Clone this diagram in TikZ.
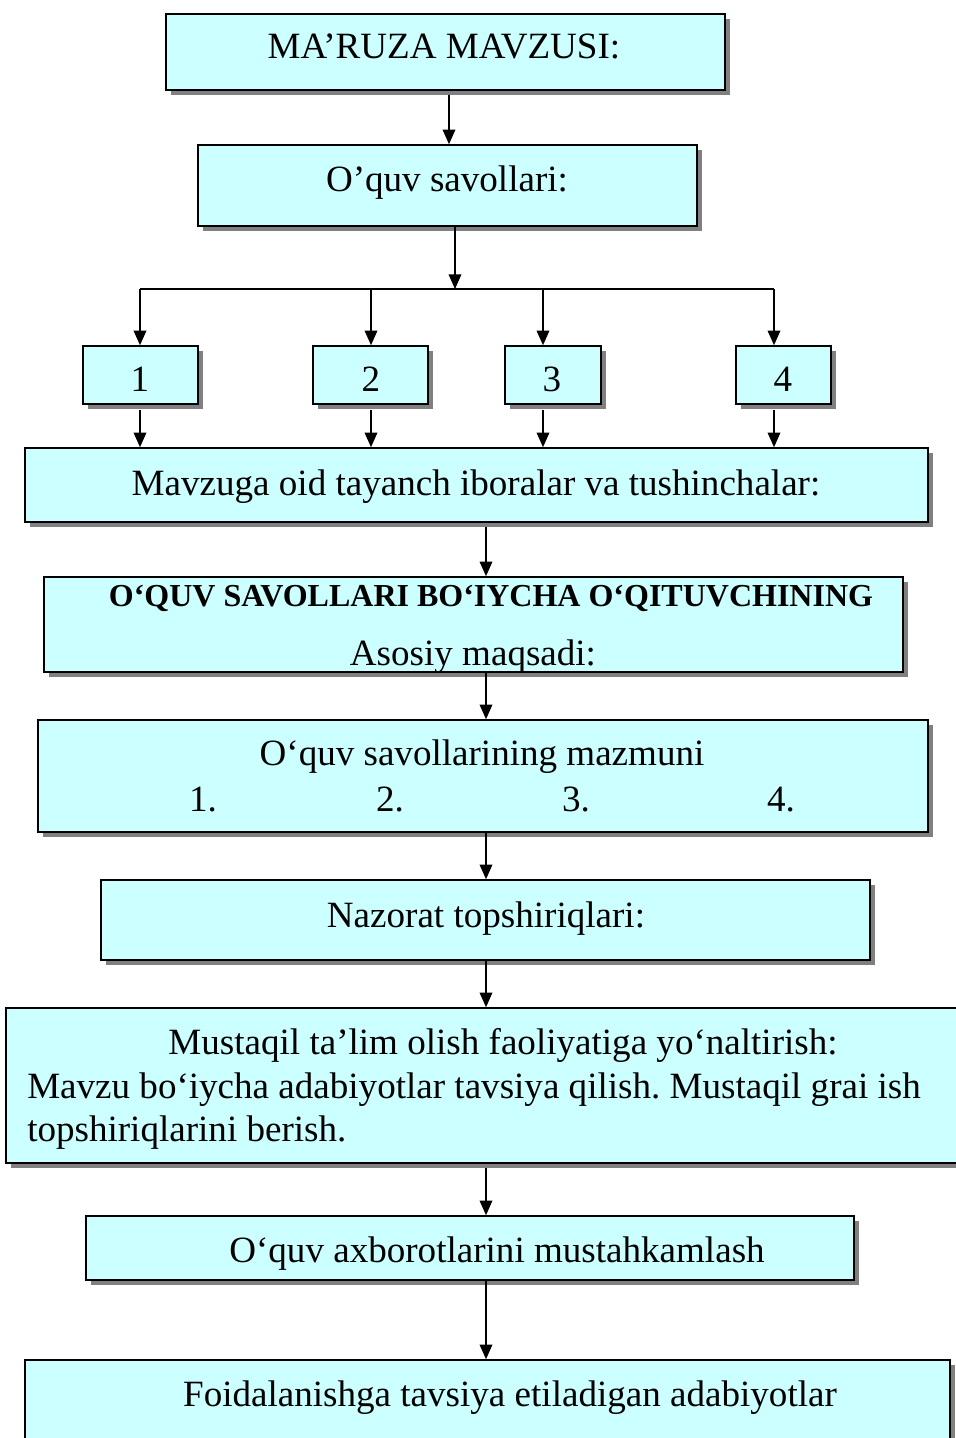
\documentclass[tikz,border=0pt]{standalone}
\usepackage{fontspec}
\setmainfont{Liberation Serif}
\frenchspacing
\usetikzlibrary{arrows.meta,shadows,calc}
\definecolor{boxfill}{HTML}{CCFFFF}
\definecolor{shadowgray}{HTML}{808080}
\tikzset{
  box/.style={draw=black, line width=1.2pt, fill=boxfill, rectangle, inner sep=0pt,
    general shadow={fill=shadowgray, shadow xshift=3.75pt, shadow yshift=-3.75pt}},
  lbl/.style={anchor=base, inner sep=0pt, font=\fontsize{27.8}{33}\selectfont},
  lbll/.style={anchor=base west, inner sep=0pt, font=\fontsize{27.8}{33}\selectfont},
  blbl/.style={anchor=base, inner sep=0pt, font=\fontsize{24}{29}\selectfont\bfseries},
  arr/.style={line width=1.1pt, -{Triangle[length=11pt,width=9.5pt]}},
  ln/.style={line width=1.1pt}
}
\begin{document}
\begin{tikzpicture}[x=0.75pt,y=-0.75pt]
\useasboundingbox (0,0) rectangle (956,1438);
% boxes
\node[box, minimum width=419.25pt, minimum height=57pt] (A) at (445.5,52) {};
\node[box, minimum width=374.25pt, minimum height=60.75pt] (B) at (447.5,185.5) {};
\node[box, minimum width=86.25pt, minimum height=43.5pt] (n1) at (140.5,375) {};
\node[box, minimum width=86.25pt, minimum height=43.5pt] (n2) at (370.5,375) {};
\node[box, minimum width=72pt, minimum height=43.5pt] (n3) at (553,375) {};
\node[box, minimum width=71.25pt, minimum height=43.5pt] (n4) at (783.5,375) {};
\node[box, minimum width=677.25pt, minimum height=55.5pt] (C) at (476.5,485) {};
\node[box, minimum width=644.25pt, minimum height=71.25pt] (D) at (473.5,624.5) {};
\node[box, minimum width=667.5pt, minimum height=84pt] (E) at (483,776) {};
\node[box, minimum width=576.75pt, minimum height=60pt] (F) at (485.5,920) {};
\node[box, minimum width=717pt, minimum height=116.25pt] (G) at (484,1085.5) {};
\node[box, minimum width=576pt, minimum height=48pt] (H) at (470,1248) {};
\node[box, minimum width=693.75pt, minimum height=75pt] (I) at (487.5,1410) {};
% texts
\node[lbl] (tA) at (444,59) {MA’RUZA MAVZUSI:};
\node[lbl] (tB) at (447,191) {O’quv savollari:};
\node[lbl] (t1) at (140,391) {1};
\node[lbl] (t2) at (371,391) {2};
\node[lbl] (t3) at (552,391) {3};
\node[lbl] (t4) at (783,391) {4};
\node[lbl] (tC) at (476,495) {Mavzuga oid tayanch iboralar va tushinchalar:};
\node[blbl] (tD1) at (491,606) {O‘QUV SAVOLLARI BO‘IYCHA O‘QITUVCHINING};
\node[lbl] (tD2) at (473,665) {Asosiy maqsadi:};
\node[lbl] (tE) at (482,765) {O‘quv savollarining mazmuni};
\node[lbl] (tE1) at (203,811) {1.};
\node[lbl] (tE2) at (390,811) {2.};
\node[lbl] (tE3) at (576,811) {3.};
\node[lbl] (tE4) at (781,811) {4.};
\node[lbl] (tF) at (486,927) {Nazorat topshiriqlari:};
\node[lbl] (tG1) at (503,1054) {Mustaqil ta’lim olish faoliyatiga yo‘naltirish:};
\node[lbll] (tG2) at (27,1098) {Mavzu bo‘iycha adabiyotlar tavsiya qilish. Mustaqil grai ish};
\node[lbll] (tG3) at (27,1141) {topshiriqlarini berish.};
\node[lbl] (tH) at (497,1262) {O‘quv axborotlarini mustahkamlash};
\node[lbl] (tI) at (510,1406) {Foidalanishga tavsiya etiladigan adabiyotlar};
% connectors
\coordinate (hub) at (455,289);
\coordinate (c1) at (140,289);
\coordinate (c2) at (371,289);
\coordinate (c3) at (543,289);
\coordinate (c4) at (774,289);
\coordinate (col) at (486,0);
\coordinate (colA) at (449,0);
\draw[arr, shorten <=3pt] (colA |- A.south) -- (colA |- B.north);
\draw[arr] (hub |- B.south) -- (hub);
\draw[ln] (c1) -- (c4);
\foreach \i in {1,2,3,4}{
  \draw[arr] (c\i) -- (c\i |- n\i.north);
  \draw[arr, shorten <=4pt] (c\i |- n\i.south) -- (c\i |- C.north);
}
\draw[arr, shorten <=3pt] (col |- C.south) -- (col |- D.north);
\draw[arr] (col |- D.south) -- (col |- E.north);
\draw[arr] (col |- E.south) -- (col |- F.north);
\draw[arr] (col |- F.south) -- (col |- G.north);
\draw[arr, shorten <=3pt] (col |- G.south) -- (col |- H.north);
\draw[arr] (col |- H.south) -- (col |- I.north);
\end{tikzpicture}
\end{document}
